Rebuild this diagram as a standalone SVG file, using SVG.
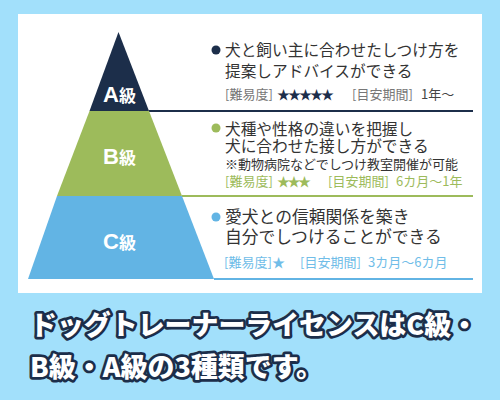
<svg xmlns="http://www.w3.org/2000/svg" width="500" height="400" viewBox="0 0 500 400">
<style>
.jp{font-family:"Noto Sans CJK JP","Noto Sans",sans-serif}
.main{font-size:15.7px;fill:#333}
.mainc{font-size:16.8px;fill:#333}
.meta{font-size:13px}
.lbl{font-family:"Liberation Sans","Noto Sans CJK JP",sans-serif;font-weight:bold;fill:#fff;text-anchor:middle}
.title{font-family:"Noto Sans CJK JP",sans-serif;font-weight:900;font-size:27px;fill:#fff;stroke:#1c2e4a;stroke-width:5.5;stroke-linejoin:round;paint-order:stroke}
</style>
<rect x="0" y="0" width="500" height="400" fill="#a2e0fb"/>
<rect x="18" y="14" width="464" height="279" fill="#fff"/>

<g id="connectors">
<line x1="149" y1="111" x2="473" y2="111" stroke="#1c2e4a" stroke-width="2"/>
<line x1="182" y1="196" x2="473" y2="196" stroke="#9dbb5b" stroke-width="2"/>
<line x1="214" y1="279" x2="473" y2="279" stroke="#62b4e4" stroke-width="2"/>
</g>

<g id="levelA">
<polygon points="118.5,32 149,111 89.5,111" fill="#1c2e4a"/>
<text class="lbl" x="119.5" y="101.5"><tspan font-size="22">A</tspan><tspan font-size="17" font-family="Noto Sans CJK JP">級</tspan></text>
<circle cx="216" cy="50" r="4.5" fill="#1c2e4a"/>
<text class="jp main" x="225" y="56">犬と飼い主に合わせたしつけ方を</text>
<text class="jp main" x="225" y="77">提案しアドバイスができる</text>
<text class="jp meta" y="99"><tspan x="225" fill="#777">[難易度]</tspan><tspan x="277" fill="#1c2e4a" textLength="57">★★★★★</tspan><tspan x="352" fill="#777">[目安期間]</tspan><tspan x="421" fill="#444">1年～</tspan></text>
</g>

<g id="levelB">
<polygon points="89.5,111 149,111 182,196 57,196" fill="#9dbb5b"/>
<text class="lbl" x="119.5" y="163.5"><tspan font-size="22">B</tspan><tspan font-size="17" font-family="Noto Sans CJK JP">級</tspan></text>
<circle cx="216" cy="128" r="4.5" fill="#9dbb5b"/>
<text class="jp main" x="225" y="134.5">犬種や性格の違いを把握し</text>
<text class="jp main" x="225" y="152">犬に合わせた接し方ができる</text>
<text class="jp" x="225" y="169" font-size="13" fill="#333">※動物病院などでしつけ教室開催が可能</text>
<text class="jp meta" y="186" fill="#9dbb5b"><tspan x="225">[難易度]</tspan><tspan x="277" textLength="34">★★★</tspan><tspan x="328">[目安期間]</tspan><tspan x="396">6カ月～1年</tspan></text>
</g>

<g id="levelC">
<polygon points="57,196 182,196 214,279 28,279" fill="#62b4e4"/>
<text class="lbl" x="119.5" y="248.5"><tspan font-size="22">C</tspan><tspan font-size="17" font-family="Noto Sans CJK JP">級</tspan></text>
<circle cx="216" cy="217" r="4.5" fill="#62b4e4"/>
<text class="jp mainc" x="225" y="223">愛犬との信頼関係を築き</text>
<text class="jp mainc" x="225" y="243">自分でしつけることができる</text>
<text class="jp meta" y="267" fill="#70bde8"><tspan x="224">[難易度]</tspan><tspan x="272">★</tspan><tspan x="300">[目安期間]</tspan><tspan x="368">3カ月～6カ月</tspan></text>
</g>

<g id="title">
<text class="title" x="30" y="335" textLength="448" lengthAdjust="spacingAndGlyphs">ドッグトレーナーライセンスはC級・</text>
<text class="title" x="30" y="377" textLength="293" lengthAdjust="spacingAndGlyphs">B級・A級の3種類です。</text>
</g>
</svg>
